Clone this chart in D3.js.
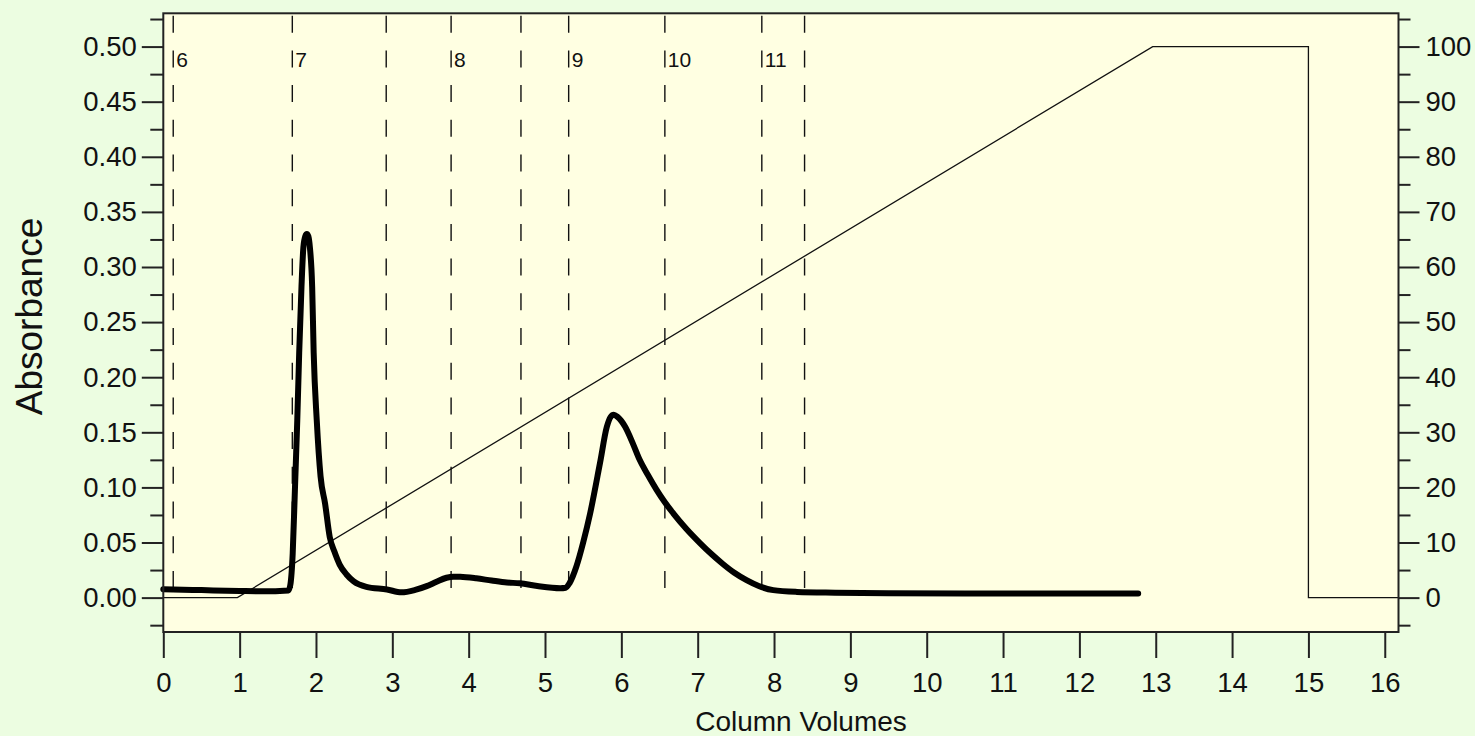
<!DOCTYPE html>
<html>
<head>
<meta charset="utf-8">
<script src="https://cdn.jsdelivr.net/npm/d3@7"></script>
<style>
  html, body { margin: 0; padding: 0; background: #ECFDE1; }
  svg { display: block; }
  text { font-family: "Liberation Sans", Arial, sans-serif; fill: #111; }
</style>
</head>
<body>
<svg id="chart" width="1475" height="736"></svg>
<script>
// ---- data ----
const columnVolumes = [0, 0.5, 1.0, 1.3, 1.64, 1.665, 1.695, 1.725, 1.755, 1.78, 1.81, 1.835, 1.86, 1.88, 1.90, 1.92, 1.95, 1.97, 2.01, 2.06, 2.12, 2.18, 2.24, 2.31, 2.40, 2.49, 2.66, 2.93, 3.12, 3.30, 3.45, 3.58, 3.71, 3.80, 3.89, 4.10, 4.30, 4.50, 4.67, 4.90, 5.20, 5.27, 5.32, 5.41, 5.50, 5.59, 5.72, 5.81, 5.86, 5.90, 5.95, 6.05, 6.15, 6.24, 6.35, 6.46, 6.57, 6.68, 6.85, 7.03, 7.18, 7.33, 7.48, 7.64, 7.80, 7.99, 8.30, 8.80, 9.50, 10.5, 11.5, 12.77];
const absorbance = [0.0077, 0.0068, 0.0060, 0.0057, 0.0065, 0.012, 0.040, 0.100, 0.161, 0.222, 0.282, 0.318, 0.328, 0.330, 0.328, 0.318, 0.282, 0.222, 0.161, 0.110, 0.085, 0.055, 0.042, 0.030, 0.021, 0.015, 0.0098, 0.0074, 0.0048, 0.0070, 0.0104, 0.0144, 0.0180, 0.0190, 0.0189, 0.0175, 0.0155, 0.0137, 0.0130, 0.0105, 0.0085, 0.0090, 0.0130, 0.028, 0.050, 0.076, 0.122, 0.155, 0.164, 0.166, 0.164, 0.155, 0.140, 0.125, 0.111, 0.098, 0.0865, 0.0765, 0.0625, 0.0495, 0.0395, 0.0305, 0.0225, 0.0158, 0.0105, 0.0068, 0.0052, 0.0045, 0.0040, 0.0038, 0.0038, 0.0038];

const gradientCV = [0, 0.97, 12.96, 15.0, 15.0, 16.18];
const gradientPct = [0, 0, 100, 100, 0, 0];

const fractionCV = [0.13, 1.69, 2.92, 3.77, 4.685, 5.31, 6.57, 7.84, 8.40];
const fractionLabels = ["6", "7", "", "8", "", "9", "10", "11", ""];
const fractionTop = 0.528, fractionBottom = 0.0085;

const xTicks = d3.range(0, 17, 1);
const yMajorTicks = [0, 0.05, 0.10, 0.15, 0.20, 0.25, 0.30, 0.35, 0.40, 0.45, 0.50];
const yMinorTicks = [-0.025, 0.025, 0.075, 0.125, 0.175, 0.225, 0.275, 0.325, 0.375, 0.425, 0.475, 0.525];
const rMajorTicks = [0, 10, 20, 30, 40, 50, 60, 70, 80, 90, 100];
const rMinorTicks = [-5, 5, 15, 25, 35, 45, 55, 65, 75, 85, 95, 105];

// ---- layout ----
const L = 163.3, R = 1398.5, T = 13.3, B = 632;
const svg = d3.select("#chart");

const x = d3.scaleLinear().domain([0, 16.18]).range([L, R]);
const y = d3.scaleLinear().domain([-0.0312, 0.5302]).range([B, T]);
const yr = d3.scaleLinear().domain([-6.24, 106.04]).range([B, T]);

// plot background
svg.append("rect").attr("x", L).attr("y", T).attr("width", R - L).attr("height", B - T)
  .attr("fill", "#FFFFE2");

// fraction dashed lines
const frac = svg.append("g");
fractionCV.forEach((v, i) => {
  frac.append("line")
    .attr("x1", x(v)).attr("x2", x(v))
    .attr("y1", y(fractionTop)).attr("y2", y(fractionBottom))
    .attr("stroke", "#111").attr("stroke-width", 1.4)
    .attr("stroke-dasharray", "17,17.7");
  if (fractionLabels[i]) {
    frac.append("text")
      .attr("x", x(v) + 3).attr("y", 66.5)
      .attr("font-size", 21)
      .text(fractionLabels[i]);
  }
});

// gradient line
const gData = gradientCV.map((v, i) => [v, gradientPct[i]]);
svg.append("path")
  .datum(gData)
  .attr("fill", "none").attr("stroke", "#111").attr("stroke-width", 1.3)
  .attr("d", d3.line().x(d => x(d[0])).y(d => yr(d[1])));

// absorbance trace
const aData = columnVolumes.map((v, i) => [v, absorbance[i]]);
svg.append("path")
  .datum(aData)
  .attr("fill", "none").attr("stroke", "#000").attr("stroke-width", 6)
  .attr("stroke-linejoin", "round").attr("stroke-linecap", "round")
  .attr("d", d3.line().curve(d3.curveMonotoneX).x(d => x(d[0])).y(d => y(d[1])));

// frame
svg.append("rect").attr("x", L).attr("y", T).attr("width", R - L).attr("height", B - T)
  .attr("fill", "none").attr("stroke", "#222").attr("stroke-width", 2);

function styleAxis(g) {
  g.select(".domain").remove();
  g.selectAll(".tick line").attr("stroke", "#222").attr("stroke-width", 2);
  g.selectAll(".tick text").attr("font-size", 27.5).attr("fill", "#111");
}

// bottom axis
svg.append("g").attr("transform", `translate(0,${B})`)
  .call(d3.axisBottom(x).tickValues(xTicks).tickFormat(d3.format("d")).tickSize(26).tickPadding(14))
  .call(styleAxis);

// left axis
svg.append("g").attr("transform", `translate(${L},0)`)
  .call(d3.axisLeft(y).tickValues(yMajorTicks).tickFormat(d3.format(".2f")).tickSize(21.5).tickPadding(5))
  .call(styleAxis);
svg.append("g").attr("transform", `translate(${L},0)`)
  .call(d3.axisLeft(y).tickValues(yMinorTicks).tickFormat("").tickSize(13))
  .call(styleAxis);

// right axis
svg.append("g").attr("transform", `translate(${R},0)`)
  .call(d3.axisRight(yr).tickValues(rMajorTicks).tickFormat(d3.format("d")).tickSize(21).tickPadding(6))
  .call(styleAxis);
svg.append("g").attr("transform", `translate(${R},0)`)
  .call(d3.axisRight(yr).tickValues(rMinorTicks).tickFormat("").tickSize(12))
  .call(styleAxis);

// axis titles
svg.append("text")
  .attr("x", 801).attr("y", 731)
  .attr("text-anchor", "middle").attr("font-size", 28)
  .text("Column Volumes");

svg.append("text")
  .attr("transform", "translate(41.5,316.5) rotate(-90)")
  .attr("text-anchor", "middle").attr("font-size", 37)
  .text("Absorbance");
</script>
</body>
</html>
